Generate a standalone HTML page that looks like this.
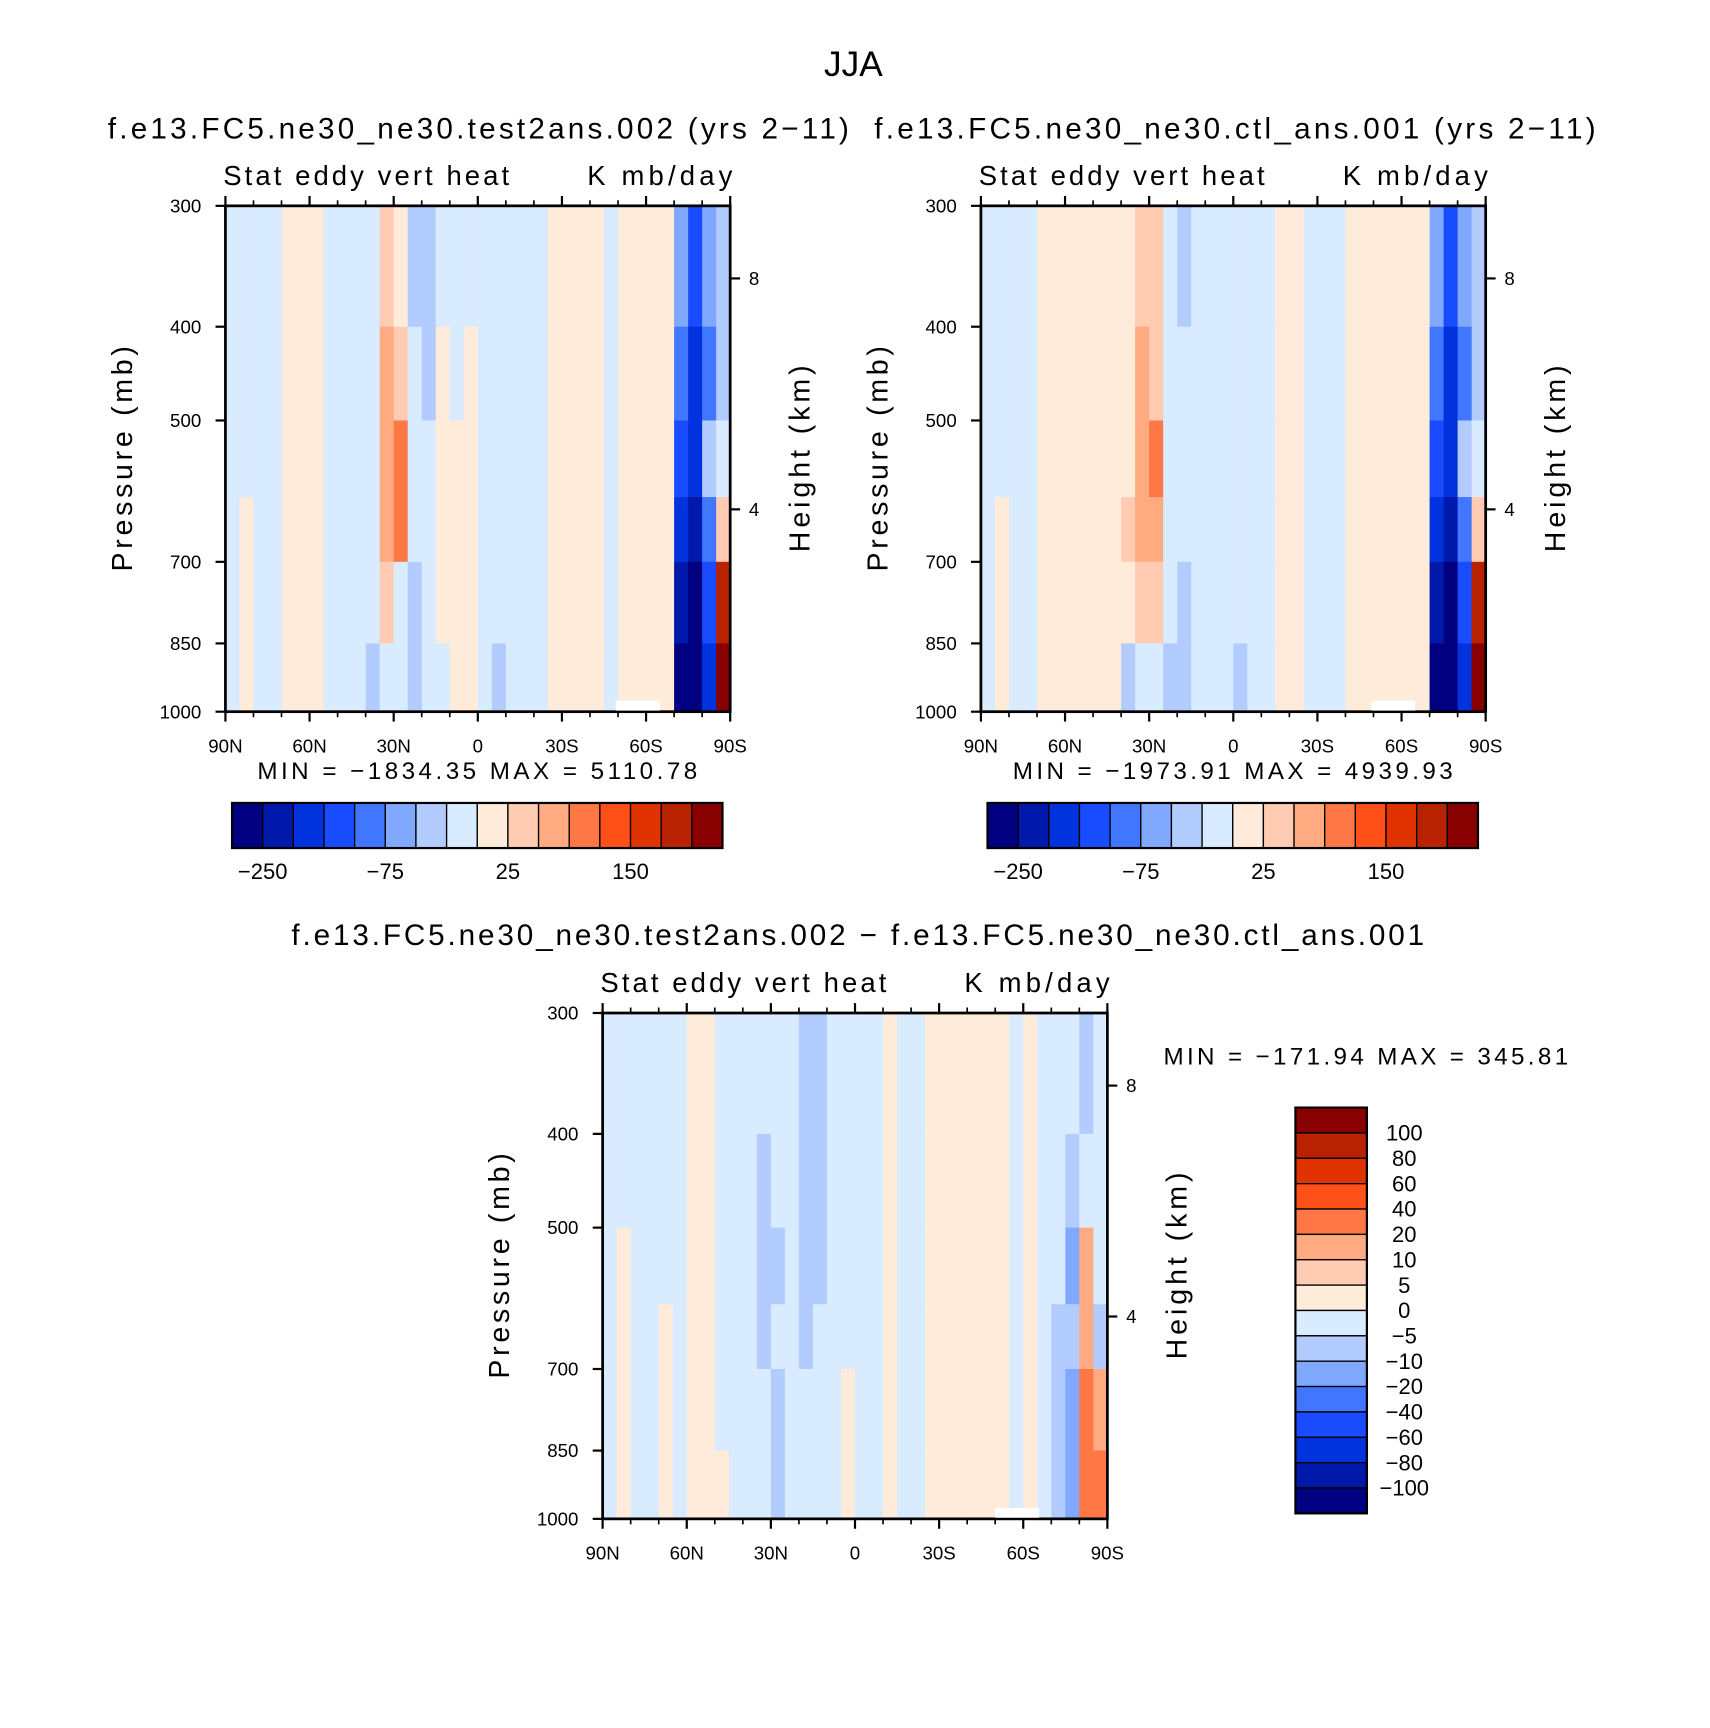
<!DOCTYPE html>
<html><head><meta charset="utf-8"><style>html,body{margin:0;padding:0;background:#fff}svg{display:block}text{font-family:"Liberation Sans",sans-serif;fill:#000}</style></head>
<body>
<svg id="fig" width="1710" height="1728" viewBox="0 0 1555 1571" xmlns="http://www.w3.org/2000/svg">
<rect width="1555" height="1571" fill="#fff"/>
<text x="776" y="69" font-size="32" text-anchor="middle">JJA</text>
</svg>
<script>
const colors=["#000080","#0019AA","#0033DD","#1A4CFF","#4177FF","#80A8FF","#B3CCFF","#D9EBFF","#FFEBD9","#FFCCB3","#FFAA80","#FF7744","#FF5019","#E03300","#B82200","#880000"];
const levelsAbs=[-250,-200,-150,-100,-75,-50,-25,0,25,50,75,100,150,200,250];
const levelsDiff=[-100,-80,-60,-40,-20,-10,-5,0,5,10,20,40,60,80,100];
const pLevels=[300,400,500,600,700,850,1000];
const latEdgesCount=36;
const latTicks=["90N","60N","30N","0","30S","60S","90S"];
const pTicks=[300,400,500,700,850,1000];
const zTicks=[8,4];
const p1=[
[-10,-10,-10,-10,10,10,10,-10,-10,-10,-10,30,10,-40,-40,-10,-10,-10,-10,-10,-10,-10,-10,10,10,10,10,-10,10,10,10,10,-60,-120,-60,-40],
[-10,-10,-10,-10,10,10,10,-10,-10,-10,-10,60,30,-10,-40,10,-10,10,-10,-10,-10,-10,-10,10,10,10,10,-10,10,10,10,10,-90,-170,-90,-40],
[-10,-10,-10,-10,10,10,10,-10,-10,-10,-10,60,90,-10,-10,10,10,10,-10,-10,-10,-10,-10,10,10,10,10,-10,10,10,10,10,-120,-170,-40,-10],
[-10,10,-10,-10,10,10,10,-10,-10,-10,-10,60,90,-10,-10,10,10,10,-10,-10,-10,-10,-10,10,10,10,10,-10,10,10,10,10,-170,-220,-90,30],
[-10,10,-10,-10,10,10,10,-10,-10,-10,-10,30,-10,-40,-10,10,10,10,-10,-10,-10,-10,-10,10,10,10,10,-10,10,10,10,10,-220,-300,-120,220],
[-10,10,-10,-10,10,10,10,-10,-10,-10,-40,-10,-10,-40,-10,-10,10,10,-10,-40,-10,-10,-10,10,10,10,10,-10,10,10,10,10,-300,-300,-170,260]];
const p2=[
[-10,-10,-10,-10,10,10,10,10,10,10,10,30,30,-10,-40,-10,-10,-10,-10,-10,-10,10,10,-10,-10,-10,10,10,10,10,10,10,-60,-120,-60,-40],
[-10,-10,-10,-10,10,10,10,10,10,10,10,60,30,-10,-10,-10,-10,-10,-10,-10,-10,10,10,-10,-10,-10,10,10,10,10,10,10,-90,-170,-90,-40],
[-10,-10,-10,-10,10,10,10,10,10,10,10,60,90,-10,-10,-10,-10,-10,-10,-10,-10,10,10,-10,-10,-10,10,10,10,10,10,10,-120,-170,-40,-10],
[-10,10,-10,-10,10,10,10,10,10,10,30,60,60,-10,-10,-10,-10,-10,-10,-10,-10,10,10,-10,-10,-10,10,10,10,10,10,10,-170,-220,-90,30],
[-10,10,-10,-10,10,10,10,10,10,10,10,30,30,-10,-40,-10,-10,-10,-10,-10,-10,10,10,-10,-10,-10,10,10,10,10,10,10,-220,-300,-120,220],
[-10,10,-10,-10,10,10,10,10,10,10,-40,-10,-10,-40,-40,-10,-10,-10,-40,-10,-10,10,10,-10,-10,-10,10,10,10,10,10,10,-300,-300,-170,260]];
const p3=[
[-2,-2,-2,-2,-2,-2,2,2,-2,-2,-2,-2,-2,-2,-7,-7,-2,-2,-2,-2,2,-2,-2,2,2,2,2,2,2,-2,2,-2,-2,-2,-7,-2],
[-2,-2,-2,-2,-2,-2,2,2,-2,-2,-2,-7,-2,-2,-7,-7,-2,-2,-2,-2,2,-2,-2,2,2,2,2,2,2,-2,2,-2,-2,-7,-2,-2],
[-2,2,-2,-2,-2,-2,2,2,-2,-2,-2,-7,-7,-2,-7,-7,-2,-2,-2,-2,2,-2,-2,2,2,2,2,2,2,-2,2,-2,-2,-20,10,-2],
[-2,2,-2,-2,2,-2,2,2,-2,-2,-2,-7,-2,-2,-7,-2,-2,-2,-2,-2,2,-2,-2,2,2,2,2,2,2,-2,2,-2,-7,-7,10,-7],
[-2,2,-2,-2,2,-2,2,2,-2,-2,-2,-2,-7,-2,-2,-2,-2,2,-2,-2,2,-2,-2,2,2,2,2,2,2,-2,2,-2,-7,-20,20,10],
[-2,2,-2,-2,2,-2,2,2,2,-2,-2,-2,-7,-2,-2,-2,-2,2,-2,-2,2,-2,-2,2,2,2,2,2,2,-2,2,-2,-7,-20,20,20]];
const absLabels=["-250","-75","25","150"];
const absLabelIdx=[1,5,9,13];
const diffLabels=["100","80","60","40","20","10","5","0","\u22125","\u221210","\u221220","\u221240","\u221260","\u221280","\u2212100"];

const NS="http://www.w3.org/2000/svg";
const svg=document.getElementById('fig');
function el(tag,attrs,parent){const e=document.createElementNS(NS,tag);for(const k in attrs)e.setAttribute(k,attrs[k]);(parent||svg).appendChild(e);return e;}
function txt(s,attrs,parent){const t=el('text',attrs,parent);t.textContent=s;return t;}
function colorFor(v,lev){let i=0;while(i<lev.length&&v>=lev[i])i++;return colors[i];}

function panel(x0,y0,data,lev,name){
  const W=459,H=460;
  const g=el('g',{});
  
  
  const xs=lat=>x0+(90-lat)/180*W;
  const ys=p=>y0+Math.log10(p/300)/Math.log10(1000/300)*H;
  for(let r=0;r<data.length;r++){
    for(let c=0;c<data[r].length;c++){
      const la=90-c*180/latEdgesCount, lb=90-(c+1)*180/latEdgesCount;
      const rc=el('rect',{x:xs(la),y:ys(pLevels[r]),width:xs(lb)-xs(la)+0.6,height:ys(pLevels[r+1])-ys(pLevels[r])+0.6,fill:colorFor(data[r][c],lev)},g);
      
      
    }
  }
  el('rect',{x:x0,y:y0,width:W,height:H,fill:'none',stroke:'#000','stroke-width':2.5},g);
  for(let lat=90;lat>=-90;lat-=10){
    const major=lat%30===0;const L=major?9:5;
    el('line',{x1:xs(lat),x2:xs(lat),y1:y0+H,y2:y0+H+L,stroke:'#000','stroke-width':major?2:1.5},g);
    el('line',{x1:xs(lat),x2:xs(lat),y1:y0,y2:y0-L,stroke:'#000','stroke-width':major?2:1.5},g);
  }
  latTicks.forEach((s,i)=>{const t=txt(s,{x:xs(90-i*30),y:y0+H+37,'font-size':17,'text-anchor':'middle'},g);
    });
  pTicks.forEach(p=>{el('line',{x1:x0,x2:x0-9,y1:ys(p),y2:ys(p),stroke:'#000','stroke-width':2},g);
    const t=txt(String(p),{x:x0-22,y:ys(p)+6,'font-size':17,'text-anchor':'end'},g);
    });
  zTicks.forEach(z=>{const yy=z===8?y0+66:y0+276;
    el('line',{x1:x0+W,x2:x0+W+9,y1:yy,y2:yy,stroke:'#000','stroke-width':2},g);
    const t=txt(String(z),{x:x0+W+17,y:yy+6,'font-size':17},g);
    });
  const yl=txt('Pressure (mb)',{x:0,y:0,'font-size':26,transform:`translate(${x0-85},${y0+230}) rotate(-90)`,'text-anchor':'middle',textLength:205},g);
  
  const hl=txt('Height (km)',{x:0,y:0,'font-size':26,transform:`translate(${x0+W+72},${y0+230}) rotate(-90)`,'text-anchor':'middle',textLength:170},g);
  
  const s1=txt('Stat eddy vert heat',{x:x0-2,y:y0-19,'font-size':25,textLength:260},g);
  
  const s2=txt('K mb/day',{x:x0+W+2,y:y0-19,'font-size':25,'text-anchor':'end',textLength:132},g);
  
}
function hbar(x0,y0,name){
  const g=el('g',{});
  const w=446/16;
  colors.forEach((c,i)=>{const r=el('rect',{x:x0+i*w,y:y0,width:w,height:41,fill:c,stroke:'#000','stroke-width':1.2},g);
    });
  el('rect',{x:x0,y:y0,width:446,height:41,fill:'none',stroke:'#000','stroke-width':2},g);
  absLabels.forEach((s,i)=>{const t=txt(s.replace('-','\u2212'),{x:x0+absLabelIdx[i]*w,y:y0+69,'font-size':20,'text-anchor':'middle'},g);
    });
}
function t(s,a,name){const e=txt(s,a);}
t('f.e13.FC5.ne30_ne30.test2ans.002 (yrs 2\u221211)',{x:98,y:126,'font-size':27,textLength:674},'left-panel-title');
t('f.e13.FC5.ne30_ne30.ctl_ans.001 (yrs 2\u221211)',{x:795,y:126,'font-size':27,textLength:656},'right-panel-title');
t('f.e13.FC5.ne30_ne30.test2ans.002 \u2212 f.e13.FC5.ne30_ne30.ctl_ans.001',{x:265,y:859,'font-size':27,textLength:1030},'diff-panel-title');
panel(205,187,p1,levelsAbs,'test-panel');
panel(892,187,p2,levelsAbs,'ctl-panel');
panel(548,921,p3,levelsDiff,'diff-panel');
el('rect',{x:560,y:637,width:40,height:9,fill:'#fff'});
el('rect',{x:1247,y:637,width:40,height:9,fill:'#fff'});
el('rect',{x:905,y:1371,width:40,height:9,fill:'#fff'});
t('MIN = \u22121834.35   MAX = 5110.78',{x:434,y:708,'font-size':22,'text-anchor':'middle',textLength:400},'test-minmax');
t('MIN = \u22121973.91   MAX = 4939.93',{x:1121,y:708,'font-size':22,'text-anchor':'middle',textLength:400},'ctl-minmax');
t('MIN = \u2212171.94   MAX = 345.81',{x:1058,y:968,'font-size':22,textLength:368},'diff-minmax');
hbar(211,730,'test-colorbar');
hbar(898,730,'ctl-colorbar');
(function(){
  const g=el('g',{});
  const h=369/16;
  for(let i=0;i<16;i++){const r=el('rect',{x:1178,y:1007+i*h,width:65,height:h,fill:colors[15-i],stroke:'#000','stroke-width':1.2},g);
    }
  el('rect',{x:1178,y:1007,width:65,height:369,fill:'none',stroke:'#000','stroke-width':2},g);
  diffLabels.forEach((s,i)=>{const tt=txt(s,{x:1277,y:1007+(i+1)*h+7,'font-size':20,'text-anchor':'middle'},g);
    });
})();
</script>
</body></html>
